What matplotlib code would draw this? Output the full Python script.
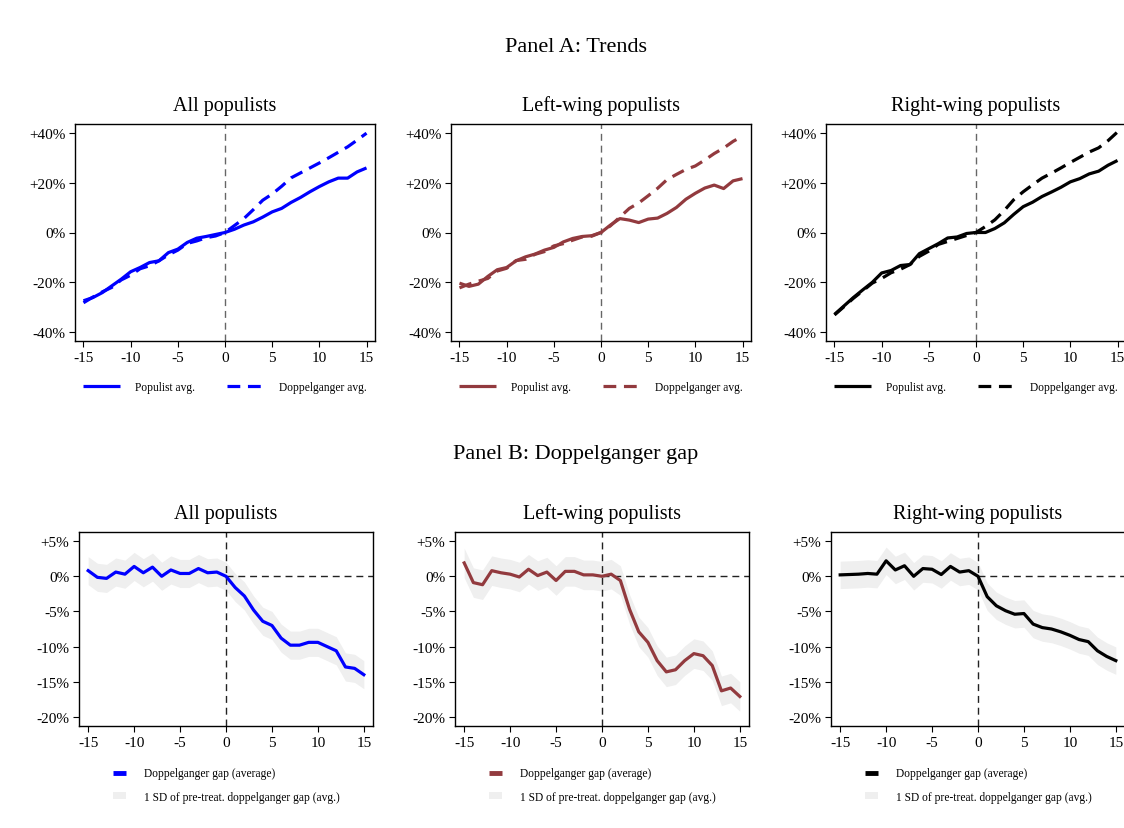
import numpy as np
import matplotlib
matplotlib.use("Agg")
import matplotlib.pyplot as plt
from matplotlib.lines import Line2D
from matplotlib.patches import Patch

plt.rcParams['font.family'] = ['Liberation Serif', 'DejaVu Serif']

years = list(range(-15, 16))

# Panel A: trends (% change relative to year 0)
pop_all = [-27.5, -26.2, -24.2, -21.5, -18.8, -15.8, -14.1, -12.1, -11.4, -8.1, -6.7, -4.0, -2.3, -1.6, -0.8, 0.0,
           1.3, 3.0, 4.3, 6.2, 8.3, 9.7, 12.1, 14.1, 16.4, 18.5, 20.4, 21.9, 21.9, 24.4, 26.0]
dop_all = [-28.3, -26.0, -23.9, -22.1, -19.1, -17.2, -14.6, -13.4, -11.4, -9.0, -7.1, -4.4, -3.4, -2.1, -1.4, 0.0,
           2.8, 5.6, 9.2, 13.0, 15.5, 18.6, 22.0, 24.0, 26.0, 28.0, 30.1, 32.3, 34.5, 37.2, 40.0]
pop_left = [-20.4, -21.7, -20.8, -17.7, -15.0, -14.1, -11.4, -9.8, -8.7, -7.1, -6.0, -3.8, -2.4, -1.6, -1.3, 0.0,
            3.0, 5.6, 5.0, 4.0, 5.4, 5.8, 7.7, 10.1, 13.4, 15.8, 17.9, 19.1, 17.7, 20.8, 21.7]
dop_left = [-22.3, -20.8, -19.6, -18.5, -15.5, -14.4, -11.3, -10.8, -8.8, -7.7, -5.4, -4.5, -3.1, -1.8, -1.5, 0.0,
            2.7, 6.2, 9.7, 11.9, 14.8, 17.8, 21.3, 23.4, 25.4, 26.8, 29.2, 31.8, 34.0, 36.7, 38.8]
pop_right = [-33.0, -29.6, -26.2, -23.1, -20.1, -16.3, -15.3, -13.3, -12.9, -8.5, -6.5, -4.5, -2.2, -1.8, -0.4, 0.0,
             0.0, 1.6, 3.9, 7.3, 10.4, 12.2, 14.5, 16.3, 18.2, 20.4, 21.7, 23.6, 24.7, 27.1, 29.0]
dop_right = [-33.2, -29.9, -26.5, -23.5, -20.4, -18.5, -16.2, -14.8, -12.9, -9.6, -7.5, -4.8, -3.6, -2.4, -1.2, 0.0,
             2.4, 5.1, 8.9, 13.2, 16.4, 19.2, 21.9, 23.9, 26.0, 28.2, 30.3, 32.4, 34.1, 37.0, 40.5]

# Panel B: doppelganger gap (populist minus doppelganger)
gap_all = [0.8, -0.15, -0.3, 0.6, 0.3, 1.4, 0.5, 1.3, 0.0, 0.9, 0.4, 0.4, 1.1, 0.5, 0.6, 0.0,
           -1.6, -2.8, -4.8, -6.4, -7.0, -8.8, -9.8, -9.8, -9.4, -9.4, -10.0, -10.6, -12.9, -13.1, -14.0]
gap_left = [1.9, -0.9, -1.2, 0.8, 0.5, 0.3, -0.1, 1.0, 0.1, 0.6, -0.6, 0.7, 0.7, 0.2, 0.2, 0.0,
            0.3, -0.6, -4.7, -7.9, -9.4, -12.0, -13.6, -13.3, -12.0, -11.0, -11.3, -12.7, -16.3, -15.9, -17.1]
gap_right = [0.2, 0.25, 0.3, 0.4, 0.3, 2.2, 0.9, 1.5, 0.0, 1.1, 1.0, 0.25, 1.4, 0.6, 0.8, 0.0,
             -2.9, -4.2, -4.9, -5.4, -5.3, -6.8, -7.3, -7.5, -7.9, -8.4, -9.0, -9.3, -10.6, -11.4, -12.0]
sd_pre = [2.0, 2.1, 1.95]

titles = ['All populists', 'Left-wing populists', 'Right-wing populists']
colors = ['#0000ff', '#923a3e', '#000000']
top_ticks = [-40, -20, 0, 20, 40]
top_labels = ['-40%', '-20%', '0%', '+20%', '+40%']
bot_ticks = [-20, -15, -10, -5, 0, 5]
bot_labels = ['-20%', '-15%', '-10%', '-5%', '0%', '+5%']
x_ticks = [-15, -10, -5, 0, 5, 10, 15]
x_labels = ['-15', '-10', '-5', '0', '5', '10', '15']

W, H = 1124, 829
fig = plt.figure(figsize=(W / 100, H / 100), dpi=100)
fig.patch.set_facecolor('white')

top_lefts = [75, 451, 826]
bot_lefts = [79, 455, 831]


def box(px_left, px_top, px_w, px_h):
    return [px_left / W, 1 - (px_top + px_h) / H, px_w / W, px_h / H]


def style(ax):
    for s in ax.spines.values():
        s.set_linewidth(1.0)
    ax.tick_params(axis='both', direction='out', length=4, width=0.8, labelsize=11, pad=3)
    ax.set_xticks(x_ticks)
    ax.set_xticklabels(x_labels)


tops = [(pop_all, dop_all), (pop_left, dop_left), (pop_right, dop_right)]
for i in range(3):
    ax = fig.add_axes(box(top_lefts[i], 125, 300, 217))
    ax.axvline(0, color='#666666', lw=1.0, ls=(0, (5, 3.5)), zorder=1)
    ax.plot(years, tops[i][0], color=colors[i], lw=2.3, solid_capstyle='butt', label='Populist avg.', zorder=3)
    ax.plot(years, tops[i][1], color=colors[i], lw=2.3, ls=(0, (4, 2.4)), label='Doppelganger avg.', zorder=4)
    ax.set_xlim(-15.9, 15.9)
    ax.set_ylim(-43.7, 43.7)
    ax.set_yticks(top_ticks)
    ax.set_yticklabels(top_labels)
    style(ax)
    ax.set_title(titles[i], fontsize=14.5, pad=10)
    ax.legend(loc='upper center', bbox_to_anchor=(0.5, -0.162), ncol=2, frameon=False, fontsize=8.3,
              handlelength=3.2, handletextpad=1.3, columnspacing=2.8, borderaxespad=0)

gaps = [gap_all, gap_left, gap_right]
for i in range(3):
    ax = fig.add_axes(box(bot_lefts[i], 533, 294, 194))
    g = np.array(gaps[i])
    ax.fill_between(years, g - sd_pre[i], g + sd_pre[i], color='#efefef', lw=0, zorder=1)
    ax.axvline(0, color='#222222', lw=1.0, ls=(0, (5, 3.5)), zorder=2)
    ax.hlines(0, 0, 16, color='#222222', lw=1.0, ls=(0, (5, 3.5)), zorder=2)
    ax.plot(years, g, color=colors[i], lw=2.3, zorder=3)
    ax.set_xlim(-16, 16)
    ax.set_ylim(-21.3, 6.3)
    ax.set_yticks(bot_ticks)
    ax.set_yticklabels(bot_labels)
    style(ax)
    ax.set_title(titles[i], fontsize=14.5, pad=10)
    handles = [Line2D([], [], color=colors[i], lw=3.5, solid_capstyle='butt'),
               Patch(facecolor='#efefef', edgecolor='none')]
    ax.legend(handles, ['Doppelganger gap (average)', '1 SD of pre-treat. doppelganger gap (avg.)'],
              loc='upper center', bbox_to_anchor=(0.5, -0.19), ncol=1, frameon=False, fontsize=8.3,
              handlelength=1.2, handleheight=0.55, handletextpad=1.5, labelspacing=1.0, borderaxespad=0)

fig.text(576 / W, 1 - 47 / H, 'Panel A: Trends', ha='center', va='center', fontsize=16)
fig.text(576 / W, 1 - 455 / H, 'Panel B: Doppelganger gap', ha='center', va='center', fontsize=16)

fig.savefig('out.png', dpi=100)
